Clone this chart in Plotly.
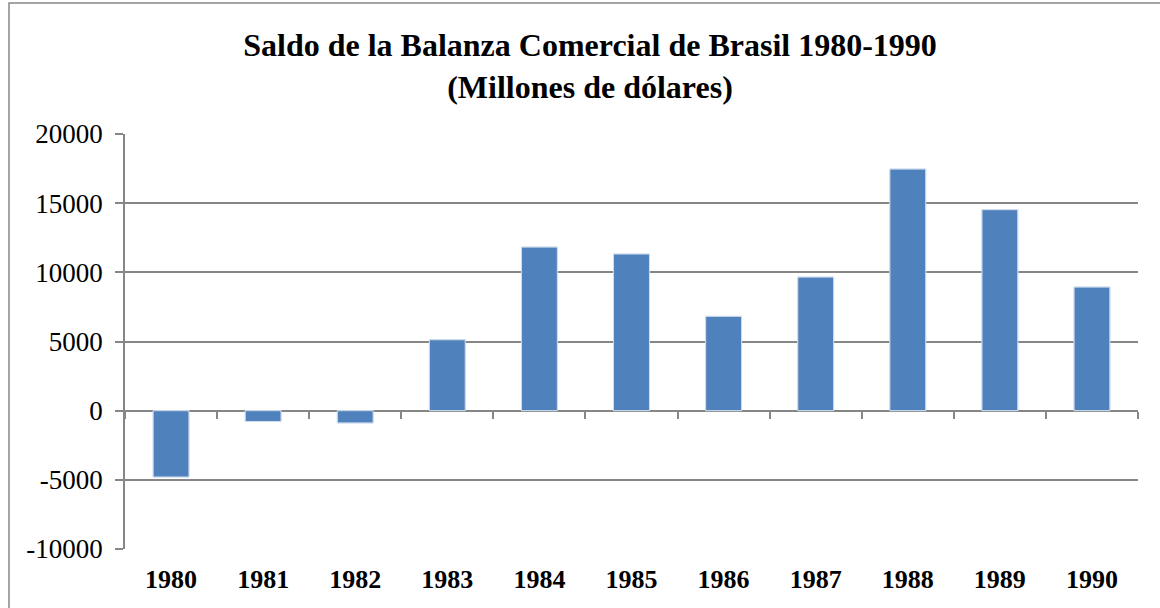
import plotly.graph_objects as go

years = ["1980", "1981", "1982", "1983", "1984", "1985", "1986", "1987", "1988", "1989", "1990"]
saldo = [-4800, -780, -890, 5130, 11830, 11330, 6820, 9660, 17470, 14530, 8940]
y_ticks = [-10000, -5000, 0, 5000, 10000, 15000, 20000]

W, H = 1160, 608
ML, MR, MT, MB = 125, 22, 134, 59
pw, ph = W - ML - MR, H - MT - MB

grid = "#868686"
serif = "Liberation Serif, Times New Roman, Tinos, DejaVu Serif, serif"

fig = go.Figure()
fig.add_trace(go.Bar(
    x=years, y=saldo, xaxis="x", yaxis="y",
    marker=dict(color="#4F81BD", line=dict(color="#B9CDE5", width=1)),
    width=0.39, showlegend=False, hoverinfo="x+y",
))
# invisible twin to carry the axis drawn through zero
fig.add_trace(go.Bar(
    x=years, y=saldo, xaxis="x2", yaxis="y",
    marker=dict(color="rgba(0,0,0,0)"), width=0.39,
    showlegend=False, hoverinfo="skip",
))

fig.update_layout(
    width=W, height=H,
    margin=dict(l=ML, r=MR, t=MT, b=MB),
    paper_bgcolor="white", plot_bgcolor="white",
    font=dict(family=serif),
    title=dict(
        text="<b>Saldo de la Balanza Comercial de Brasil 1980-1990<br>(Millones de dólares)</b>",
        font=dict(family=serif, size=32, color="black"),
        x=590 / W, xanchor="center", xref="container",
        y=1 - 56 / H, yanchor="middle", yref="container",
    ),
    xaxis=dict(
        type="category", categoryorder="array", categoryarray=years,
        range=[-0.5, len(years) - 0.5],
        showgrid=False, showline=False, ticks="", zeroline=False,
        tickfont=dict(family=serif, size=26, color="black", weight="bold"),
        ticklabelstandoff=12,
    ),
    xaxis2=dict(
        type="category", categoryorder="array", categoryarray=years,
        range=[-0.5, len(years) - 0.5],
        overlaying="x", anchor="free", position=1 / 3,
        showgrid=False, showline=False, zeroline=False,
        ticks="outside", tickson="boundaries", ticklen=7, tickwidth=1.5,
        tickcolor=grid, showticklabels=False,
    ),
    yaxis=dict(
        range=[-10000, 20000], tickvals=y_ticks,
        ticktext=[str(v) for v in y_ticks],
        showgrid=True, gridcolor=grid, gridwidth=1.5,
        zeroline=False, showline=True, linecolor=grid, linewidth=1.5,
        ticks="outside", ticklen=8, tickwidth=1.5, tickcolor=grid,
        tickfont=dict(family=serif, size=27, color="black"),
        ticklabelstandoff=7,
    ),
    bargap=0.61,
    shapes=[dict(
        type="rect", xref="paper", yref="paper",
        x0=(9 - ML) / pw, x1=(1171 - ML) / pw,
        y0=-(MB + 20) / ph, y1=1 + (MT - 3) / ph,
        line=dict(color=grid, width=1.5), fillcolor="rgba(0,0,0,0)", layer="below",
    )],
)

fig.write_html(
    "out.html",
    config={"displayModeBar": False},
    post_script="document.body.style.margin='0';document.body.style.padding='0';",
)
